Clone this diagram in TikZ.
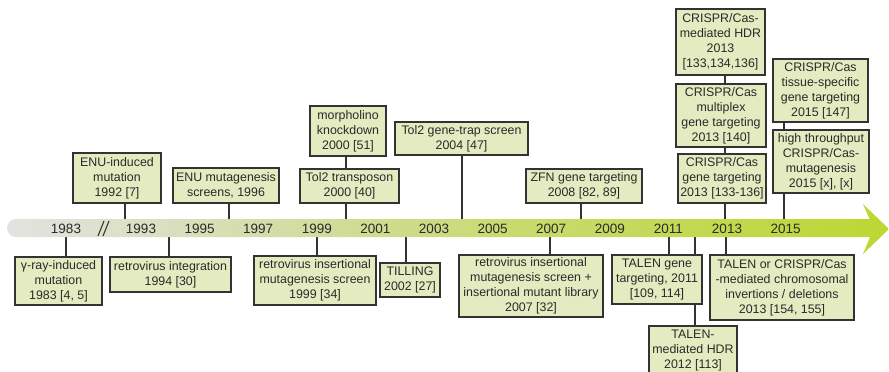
\documentclass[tikz,border=0pt]{standalone}
\usepackage{fontspec}
\setmainfont{Liberation Sans}
\usetikzlibrary{backgrounds}
\definecolor{boxfill}{HTML}{E4EBC0}
\definecolor{boxline}{HTML}{333333}
\definecolor{txt}{HTML}{2A2A2A}
\definecolor{bcA}{HTML}{E2E3E0}
\definecolor{bcB}{HTML}{D3DDA6}
\definecolor{bcC}{HTML}{C8DA6E}
\definecolor{bcD}{HTML}{BDD733}
\pgfdeclarehorizontalshading{barshade}{100bp}{color(0bp)=(bcA); color(25bp)=(bcA); color(40.75bp)=(bcB); color(53.8bp)=(bcC); color(75bp)=(bcD); color(100bp)=(bcD)}
\tikzset{
  evbox/.style 2 args={draw=boxline, fill=boxfill, line width=1.2pt, inner sep=0pt,
    align=center, text=txt, font=\fontsize{12.4}{15}\selectfont,
    minimum width=#1pt, minimum height=#2pt},
  yr/.style={inner sep=0pt, text=txt, font=\fontsize{13.5}{16}\selectfont},
  conn/.style={draw=boxline, line width=1.2pt},
  brk/.style={draw=boxline, line width=1.1pt}
}
\begin{document}
\begin{tikzpicture}[x=1pt, y=-1pt]
\useasboundingbox (0,0) rectangle (889,372);
% timeline bar
\shade[shading=barshade] (870,220) -- (863,204) -- (889,229) -- (863,254) -- (870,237)
  [rounded corners=9pt] -- (7,237) -- (7,219) [sharp corners] -- (870,219) -- cycle;
% break mark
\draw[brk] (98,236) -- (104,221);
\draw[brk] (103,236) -- (109,221);
% year labels
\node[yr] (y1983) at (66,229) {1983};
\node[yr] (y1993) at (141,229) {1993};
\node[yr] (y1995) at (199.6,229) {1995};
\node[yr] (y1997) at (258.2,229) {1997};
\node[yr] (y1999) at (316.8,229) {1999};
\node[yr] (y2001) at (375.4,229) {2001};
\node[yr] (y2003) at (434,229) {2003};
\node[yr] (y2005) at (492.6,229) {2005};
\node[yr] (y2007) at (551.2,229) {2007};
\node[yr] (y2009) at (609.8,229) {2009};
\node[yr] (y2011) at (668.4,229) {2011};
\node[yr] (y2013) at (727,229) {2013};
\node[yr] (y2015) at (785.6,229) {2015};
% anchor points on the bar
\coordinate (c92) at (125,219);
\coordinate (c96) at (229,219);
\coordinate (c83) at (66,237);
\coordinate (c94) at (169,237);
\coordinate (c99) at (317,237);
\coordinate (c00) at (346,219);
\coordinate (c02) at (406,237);
\coordinate (c04) at (462,219);
\coordinate (c07) at (550,237);
\coordinate (c08) at (581,219);
\coordinate (c11) at (669,237);
\coordinate (c12) at (695,237);
\coordinate (c13b) at (726,237);
\coordinate (c13) at (725,219);
\coordinate (c15) at (784,219);
% boxes above
\node[evbox={88}{50}] (enu) at (117,178) {ENU-induced\\mutation\\1992 [7]};
\node[evbox={106}{35}] (enums) at (226,185.5) {ENU mutagenesis\\screens, 1996};
\node[evbox={76}{50}] (morph) at (348,131) {morpholino\\knockdown\\2000 [51]};
\node[evbox={99}{34}] (tol2) at (349.5,186) {Tol2 transposon\\2000 [40]};
\node[evbox={133}{33}] (genetrap) at (461.5,138.5) {Tol2 gene-trap screen\\2004 [47]};
\node[evbox={116}{34}] (zfn) at (584,186) {ZFN gene targeting\\2008 [82, 89]};
\node[evbox={89}{66}] (hdr) at (720.5,42) {CRISPR/Cas-\\mediated HDR\\2013\\\relax [133,134,136]};
\node[evbox={90}{63}] (multiplex) at (721,115.5) {CRISPR/Cas\\multiplex\\gene targeting\\2013 [140]};
\node[evbox={88}{49}] (crispr) at (722,178.5) {CRISPR/Cas\\gene targeting\\2013 [133-136]};
\node[evbox={95}{63}] (tissue) at (820.5,90.5) {CRISPR/Cas\\tissue-specific\\gene targeting\\2015 [147]};
\node[evbox={96}{63}] (highthr) at (821,161.5) {high throughput\\CRISPR/Cas-\\mutagenesis\\2015 [x], [x]};
% boxes below
\node[evbox={87}{48}] (gamma) at (58.5,281) {γ-ray-induced\\mutation\\1983 [4, 5]};
\node[evbox={121}{35}] (retroint) at (170.5,274.5) {retrovirus integration\\1994 [30]};
\node[evbox={122}{49}] (retro99) at (315,280.5) {retrovirus insertional\\mutagenesis screen\\1999 [34]};
\node[evbox={60}{34}] (tilling) at (410,280) {TILLING\\2002 [27]};
\node[evbox={144}{62}] (retro07) at (531,286) {retrovirus insertional\\mutagenesis screen +\\insertional mutant library\\2007 [32]};
\node[evbox={90}{49}] (talen11) at (657,279.5) {TALEN gene\\targeting, 2011\\\relax [109, 114]};
\node[evbox={88}{49}] (talenhdr) at (693,350.5) {TALEN-\\mediated HDR\\2012 [113]};
\node[evbox={144}{65}] (tcdel) at (782,287.5) {TALEN or CRISPR/Cas\\-mediated chromosomal\\invertions / deletions\\2013 [154, 155]};
% connectors
\begin{scope}[on background layer]
\draw[conn] (enu.south -| c92) -- (c92);
\draw[conn] (enums.south -| c96) -- (c96);
\draw[conn] (morph.south -| c00) -- (tol2.north -| c00);
\draw[conn] (tol2.south -| c00) -- (c00);
\draw[conn] (genetrap.south -| c04) -- (c04);
\draw[conn] (zfn.south -| c08) -- (c08);
\draw[conn] (hdr.south -| c13) -- (multiplex.north -| c13);
\draw[conn] (multiplex.south -| c13) -- (crispr.north -| c13);
\draw[conn] (crispr.south -| c13) -- (c13);
\draw[conn] (tissue.south -| c15) -- (highthr.north -| c15);
\draw[conn] (highthr.south -| c15) -- (c15);
\draw[conn] (c83) -- (gamma.north -| c83);
\draw[conn] (c94) -- (retroint.north -| c94);
\draw[conn] (c99) -- (retro99.north -| c99);
\draw[conn] (c02) -- (tilling.north -| c02);
\draw[conn] (c07) -- (retro07.north -| c07);
\draw[conn] (c11) -- (talen11.north -| c11);
\draw[conn] (c12) -- (talenhdr.north -| c12);
\draw[conn] (c13b) -- (tcdel.north -| c13b);
\end{scope}
\end{tikzpicture}
\end{document}
